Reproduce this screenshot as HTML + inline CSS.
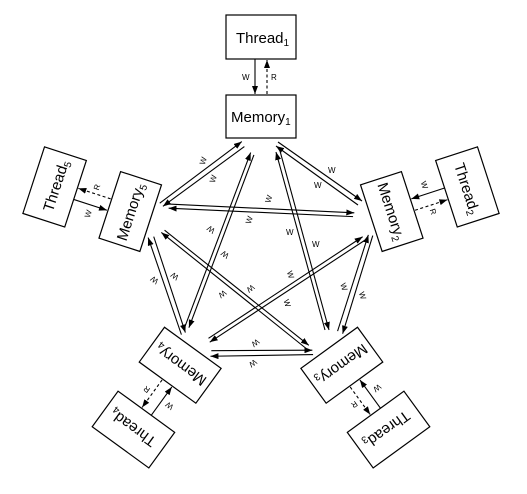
<!DOCTYPE html>
<html><head><meta charset="utf-8"><style>
html,body{margin:0;padding:0;background:#fff;}
svg{display:block;}
text{font-family:"Liberation Sans",sans-serif;fill:#000;}
.b{fill:#fff;stroke:#000;stroke-width:1.2;}
.l{stroke:#000;stroke-width:1.1;fill:none;}
.d{stroke:#000;stroke-width:1.1;fill:none;stroke-dasharray:3,2.5;}
.s{font-size:8px;}
.t{font-size:15px;}
</style></head><body>
<svg width="527" height="494" viewBox="0 0 527 494" xmlns="http://www.w3.org/2000/svg">
<defs>
<marker id="a" markerWidth="9" markerHeight="6" refX="8" refY="3" orient="auto" markerUnits="userSpaceOnUse"><path d="M0,0 L8,3 L0,6 z" fill="#000"/></marker>
</defs>
<g id="u1" transform="rotate(0 261 254)">
<rect class="b" x="226" y="15" width="70" height="44"/>
<text class="t" x="236" y="43">Thread<tspan font-size="10" dy="3">1</tspan></text>
<rect class="b" x="226" y="95" width="70" height="43"/>
<text class="t" x="231" y="122">Memory<tspan font-size="10" dy="3">1</tspan></text>
<line class="l" x1="255" y1="59" x2="255" y2="94" marker-end="url(#a)"/>
<line class="d" x1="267" y1="94" x2="267" y2="60" marker-end="url(#a)"/>
<text class="s" x="242" y="80">W</text><text class="s" x="271" y="80">R</text>
<line class="l" x1="278" y1="142" x2="362" y2="201" marker-end="url(#a)"/>
<line class="l" x1="358" y1="205" x2="276" y2="146" marker-end="url(#a)"/>
<text class="s" x="328" y="173">W</text><text class="s" x="314" y="188">W</text>
<line class="l" x1="325" y1="330" x2="276" y2="152" marker-end="url(#a)"/>
<line class="l" x1="280" y1="151" x2="329" y2="330" marker-end="url(#a)"/>
<text class="s" x="286" y="235">W</text><text class="s" x="312" y="247">W</text>
</g>
<g transform="rotate(72 261 254)">
<rect class="b" x="226" y="15" width="70" height="44"/>
<text class="t" x="236" y="43">Thread<tspan font-size="10" dy="3">2</tspan></text>
<rect class="b" x="226" y="95" width="70" height="43"/>
<text class="t" x="231" y="122">Memory<tspan font-size="10" dy="3">2</tspan></text>
<line class="l" x1="255" y1="59" x2="255" y2="94" marker-end="url(#a)"/>
<line class="d" x1="267" y1="94" x2="267" y2="60" marker-end="url(#a)"/>
<text class="s" x="242" y="80">W</text><text class="s" x="271" y="80">R</text>
<line class="l" x1="278" y1="142" x2="362" y2="201" marker-end="url(#a)"/>
<line class="l" x1="358" y1="205" x2="276" y2="146" marker-end="url(#a)"/>
<text class="s" x="328" y="173">W</text><text class="s" x="314" y="188">W</text>
<line class="l" x1="325" y1="330" x2="276" y2="152" marker-end="url(#a)"/>
<line class="l" x1="280" y1="151" x2="329" y2="330" marker-end="url(#a)"/>
<text class="s" x="286" y="235">W</text><text class="s" x="312" y="247">W</text>
</g>
<g transform="rotate(144 261 254)">
<rect class="b" x="226" y="15" width="70" height="44"/>
<text class="t" x="236" y="43">Thread<tspan font-size="10" dy="3">3</tspan></text>
<rect class="b" x="226" y="95" width="70" height="43"/>
<text class="t" x="231" y="122">Memory<tspan font-size="10" dy="3">3</tspan></text>
<line class="l" x1="255" y1="59" x2="255" y2="94" marker-end="url(#a)"/>
<line class="d" x1="267" y1="94" x2="267" y2="60" marker-end="url(#a)"/>
<text class="s" x="242" y="80">W</text><text class="s" x="271" y="80">R</text>
<line class="l" x1="278" y1="142" x2="362" y2="201" marker-end="url(#a)"/>
<line class="l" x1="358" y1="205" x2="276" y2="146" marker-end="url(#a)"/>
<text class="s" x="328" y="173">W</text><text class="s" x="314" y="188">W</text>
<line class="l" x1="325" y1="330" x2="276" y2="152" marker-end="url(#a)"/>
<line class="l" x1="280" y1="151" x2="329" y2="330" marker-end="url(#a)"/>
<text class="s" x="286" y="235">W</text><text class="s" x="312" y="247">W</text>
</g>
<g transform="rotate(216 261 254)">
<rect class="b" x="226" y="15" width="70" height="44"/>
<text class="t" x="236" y="43">Thread<tspan font-size="10" dy="3">4</tspan></text>
<rect class="b" x="226" y="95" width="70" height="43"/>
<text class="t" x="231" y="122">Memory<tspan font-size="10" dy="3">4</tspan></text>
<line class="l" x1="255" y1="59" x2="255" y2="94" marker-end="url(#a)"/>
<line class="d" x1="267" y1="94" x2="267" y2="60" marker-end="url(#a)"/>
<text class="s" x="242" y="80">W</text><text class="s" x="271" y="80">R</text>
<line class="l" x1="278" y1="142" x2="362" y2="201" marker-end="url(#a)"/>
<line class="l" x1="358" y1="205" x2="276" y2="146" marker-end="url(#a)"/>
<text class="s" x="328" y="173">W</text><text class="s" x="314" y="188">W</text>
<line class="l" x1="325" y1="330" x2="276" y2="152" marker-end="url(#a)"/>
<line class="l" x1="280" y1="151" x2="329" y2="330" marker-end="url(#a)"/>
<text class="s" x="286" y="235">W</text><text class="s" x="312" y="247">W</text>
</g>
<g transform="rotate(288 261 254)">
<rect class="b" x="226" y="15" width="70" height="44"/>
<text class="t" x="236" y="43">Thread<tspan font-size="10" dy="3">5</tspan></text>
<rect class="b" x="226" y="95" width="70" height="43"/>
<text class="t" x="231" y="122">Memory<tspan font-size="10" dy="3">5</tspan></text>
<line class="l" x1="255" y1="59" x2="255" y2="94" marker-end="url(#a)"/>
<line class="d" x1="267" y1="94" x2="267" y2="60" marker-end="url(#a)"/>
<text class="s" x="242" y="80">W</text><text class="s" x="271" y="80">R</text>
<line class="l" x1="278" y1="142" x2="362" y2="201" marker-end="url(#a)"/>
<line class="l" x1="358" y1="205" x2="276" y2="146" marker-end="url(#a)"/>
<text class="s" x="328" y="173">W</text><text class="s" x="314" y="188">W</text>
<line class="l" x1="325" y1="330" x2="276" y2="152" marker-end="url(#a)"/>
<line class="l" x1="280" y1="151" x2="329" y2="330" marker-end="url(#a)"/>
<text class="s" x="286" y="235">W</text><text class="s" x="312" y="247">W</text>
</g>
</svg>
</body></html>
